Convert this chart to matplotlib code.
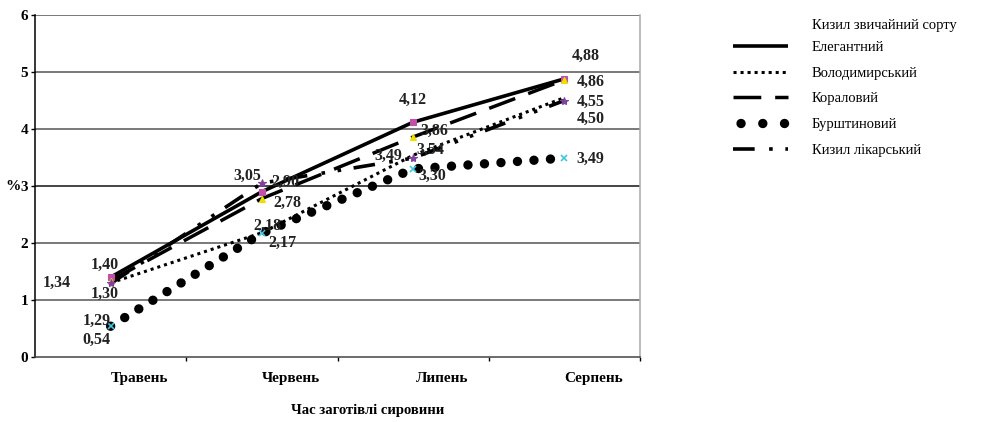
import matplotlib
matplotlib.use("Agg")
import matplotlib.pyplot as plt
from matplotlib.lines import Line2D

plt.rcParams['font.family'] = ['Liberation Serif', 'DejaVu Serif']

months = ["Травень", "Червень", "Липень", "Серпень"]
legend_title = "Кизил звичайний сорту"
names = ["Елегантний", "Володимирський", "Кораловий", "Бурштиновий", "Кизил лікарський"]
elegant = [1.40, 2.90, 4.12, 4.88]
volodymyr = [1.30, 2.18, 3.54, 4.55]
koral = [1.34, 2.78, 3.86, 4.86]
burshtyn = [0.54, 2.17, 3.30, 3.49]
likarskyi = [1.29, 3.05, 3.49, 4.50]
yticks = [0, 1, 2, 3, 4, 5, 6]
xlabel = "Час заготівлі сировини"
ylabel = "%"

series = [elegant, volodymyr, koral, burshtyn, likarskyi]

W, H = 984, 422
fig = plt.figure(figsize=(W / 100, H / 100), dpi=100)
L, R, T, B = 35, 640, 15, 357
ax = fig.add_axes([L / W, 1 - B / H, (R - L) / W, (B - T) / H])

x = list(range(len(months)))

# styles
styles = [
    dict(color='black', lw=2.6, ls='-', solid_capstyle='butt'),
    dict(color='black', lw=2.2, ls=(0, (1, 1.3)), dash_capstyle='butt'),
    dict(color='black', lw=2.5, ls=(0, (8, 4)), dash_capstyle='butt'),
    dict(color='black', lw=6.8, ls=(0, (0.001, 1.75)), dash_capstyle='round'),
    dict(color='black', lw=2.6, ls=(0, (6, 4, 1, 3.5, 1, 3.5)), dash_capstyle='butt'),
]
markers = [
    dict(marker='s', color='#c050a8', ms=5),
    dict(marker='D', color='#000080', ms=0.1),
    dict(marker='^', color='#f0e000', ms=5),
    dict(marker='x', color='#40c8e0', ms=5, mew=1.2),
    dict(marker='*', color='#8040a0', ms=6),
]

for vals, st in zip(series, styles):
    ax.plot(x, vals, zorder=3, **st)
for vals, mk in zip(series, markers):
    ax.plot(x, vals, ls='none', zorder=4, marker=mk['marker'], color=mk['color'],
            ms=mk['ms'], mew=mk.get('mew', 0.8))

# label offsets in pixels (dx right, dy down)
offsets = [
    [(-6, -12), (23, -10), (0, -22), (21, -23)],
    [(-6, 11), (6, -7), (17, -5), (26, 4)],
    [(-54, 2), (25, 4), (21, -6), (26, 2)],
    [(-14, 14), (21, 10), (19, 7), (26, 1)],
    [(-14, 37), (-15, -7), (-25, -2), (26, 18)],
]
for vals, offs in zip(series, offsets):
    for i, v in enumerate(vals):
        dx, dy = offs[i]
        ax.annotate(f"{v:.2f}".replace('.', ','), (i, v),
                    xytext=(dx * 0.72, -dy * 0.72), textcoords='offset points',
                    ha='center', va='center', fontsize=11.5, fontweight='bold',
                    color='#222222', zorder=5)

ax.set_xlim(-0.5, 3.5)
ax.set_ylim(0, 6)
ax.set_yticks(yticks)
ax.set_yticklabels([str(t) for t in yticks], fontsize=11, fontweight='bold')
ax.tick_params(axis='y', length=3, width=1, pad=2)
for t in yticks[1:]:
    ax.axhline(t, color='#555555' if t != 3 else '#111111', lw=1.1, zorder=1)

ax.set_xticks([0.5, 1.5, 2.5, 3.5])
ax.set_xticklabels([])
ax.tick_params(axis='x', which='major', length=3, width=1, direction='out')
ax.set_xticks([i + 0.19 for i in x], minor=True)
ax.set_xticklabels(months, minor=True, fontsize=11, fontweight='bold')
ax.tick_params(axis='x', which='minor', length=0, pad=11)

ax.spines['top'].set_visible(False)
ax.spines['right'].set_color('#aaaaaa')
ax.spines['left'].set_color('black')
ax.spines['bottom'].set_color('#444444')
for s in ax.spines.values():
    s.set_linewidth(1.1)

ax.set_xlabel(xlabel, fontsize=10.5, fontweight='bold')
ax.xaxis.set_label_coords(0.55, -0.137)
ax.set_ylabel(ylabel, rotation=0, fontsize=11, fontweight='bold', ha='right', va='center')
ax.yaxis.set_label_coords(-0.024, 0.5)

# legend
leg_styles = [dict(s) for s in styles]
leg_styles[3]['ls'] = (1.5, (0.001, 2.3))
handles = [Line2D([0], [0], **st) for st in leg_styles]
fig.text(812 / W, 1 - 25 / H, legend_title, fontsize=10.5, ha='left', va='center')
leg = fig.legend(handles, names, loc='upper left', bbox_to_anchor=(733 / W, 1 - 41 / H),
                 frameon=False, fontsize=10.5, handlelength=3.8, handletextpad=1.6,
                 labelspacing=0.85, borderaxespad=0, borderpad=0)

fig.savefig("out.png", dpi=100)
